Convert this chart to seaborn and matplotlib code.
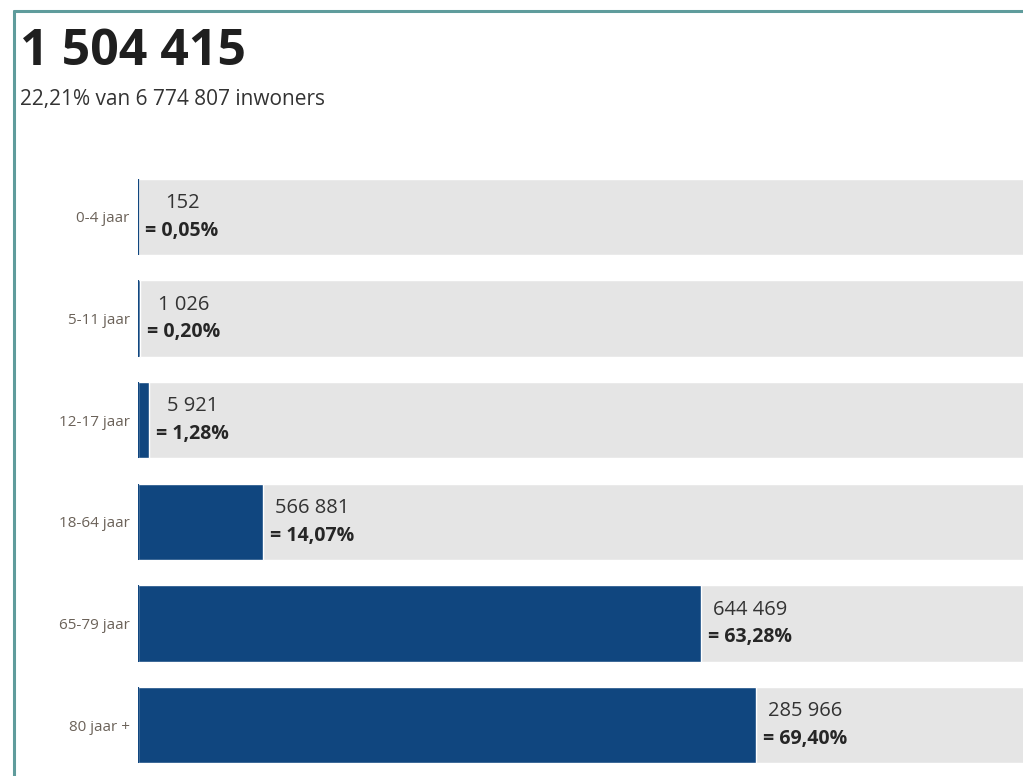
import numpy as np
import pandas as pd
import seaborn as sns
import matplotlib.pyplot as plt
from matplotlib.lines import Line2D

sns.set_theme(style="white")
plt.rcParams["font.family"] = ["Open Sans", "DejaVu Sans"]

total = 1504415
share = 22.21
population = 6774807

age_groups = ["0-4 jaar", "5-11 jaar", "12-17 jaar", "18-64 jaar", "65-79 jaar", "80 jaar +"]
counts = [152, 1026, 5921, 566881, 644469, 285966]
percent = [0.05, 0.20, 1.28, 14.07, 63.28, 69.40]
full = [100, 100, 100, 100, 100, 100]

BLUE = "#10467f"
GREY = "#e5e5e5"
TEAL = "#5f9c9c"


def fmt_int(v):
    return f"{v:,}".replace(",", " ")


def fmt_pct(v):
    return f"{v:.2f}".replace(".", ",") + "%"


df = pd.DataFrame({"group": age_groups, "count": counts, "pct": percent, "full": full})

fig = plt.figure(figsize=(10.23, 7.76), dpi=100)

# axes runs slightly past the right edge, like the cropped original
ax = fig.add_axes([138 / 1023, 0, 890 / 1023, 610 / 776])

sns.barplot(data=df, x="full", y="group", color=GREY, width=0.75, ax=ax,
            orient="h", saturation=1)
sns.barplot(data=df, x="pct", y="group", color=BLUE, width=0.75, ax=ax,
            orient="h", saturation=1)

ax.set_xlim(0, 100)
ax.set_ylim(5.5, -0.5)
ax.set_xlabel("")
ax.set_ylabel("")
ax.set_xticks([])
ax.tick_params(axis="y", length=0, pad=6, labelsize=11, labelcolor="#6b6259")
sns.despine(ax=ax, left=True, bottom=True)

# percentage line first, then centre the count above it
pct_texts = []
for i, p in enumerate(df["pct"]):
    ax.plot([0, 0], [i - 0.375, i + 0.375], color=BLUE, lw=1.6, solid_capstyle="butt")
    t = ax.annotate(
        f"= {fmt_pct(p)}",
        xy=(p, i), xytext=(5, -10), textcoords="offset points",
        ha="left", va="center", fontsize=14, fontweight="bold", color="#262626",
    )
    pct_texts.append(t)

fig.canvas.draw()
renderer = fig.canvas.get_renderer()
inv = ax.transData.inverted()
for i, t in enumerate(pct_texts):
    bb = t.get_window_extent(renderer)
    xc = inv.transform(((bb.x0 + bb.x1) / 2, 0))[0]
    ax.annotate(
        fmt_int(df["count"][i]),
        xy=(xc, i), xytext=(0, 10), textcoords="offset points",
        ha="center", va="center", fontsize=14.5, color="#333333",
    )

# header
fig.text(20 / 1023, 1 - 52 / 776, fmt_int(total), fontsize=36, fontweight="bold",
         color="#1f1f1f", va="center", ha="left")
fig.text(20 / 1023, 1 - 99 / 776,
         f"{fmt_pct(share)} van {fmt_int(population)} inwoners",
         fontsize=15, color="#333333", va="center", ha="left")

# card border (left and top)
fig.add_artist(Line2D([13.5 / 1023, 13.5 / 1023], [0, 1 - 11 / 776],
                      color=TEAL, lw=2.2, transform=fig.transFigure))
fig.add_artist(Line2D([13.5 / 1023, 1], [1 - 11 / 776, 1 - 11 / 776],
                      color=TEAL, lw=2.2, transform=fig.transFigure))

fig.savefig("out.png", dpi=100)
